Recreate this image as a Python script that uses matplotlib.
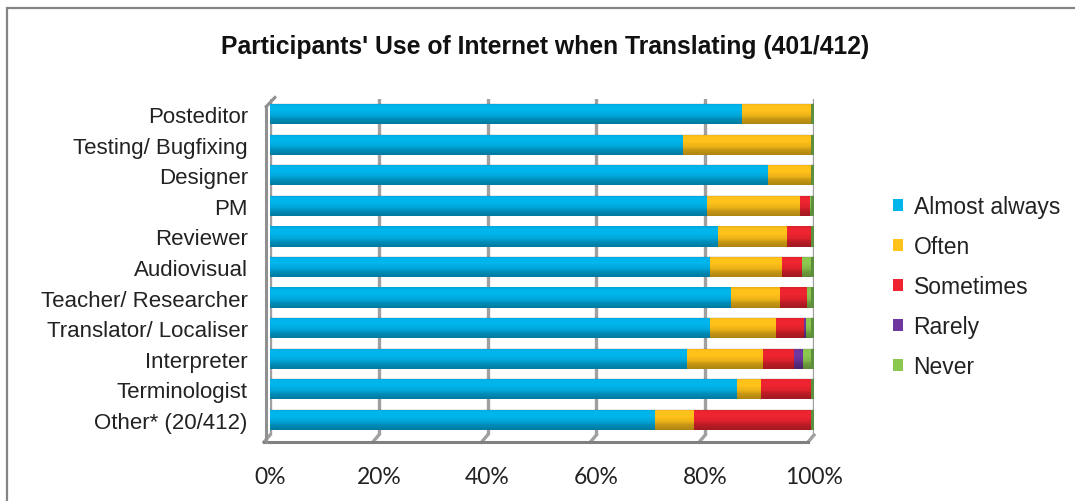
"""Stacked horizontal bar chart: how often participants use the internet while translating, by role."""

import matplotlib.pyplot as plt
from matplotlib.patches import Rectangle
import numpy as np

roles = ["Posteditor", "Testing/ Bugfixing", "Designer", "PM", "Reviewer", "Audiovisual",
         "Teacher/ Researcher", "Translator/ Localiser", "Interpreter", "Terminologist",
         "Other* (20/412)"]

# shares in percent, one list per answer
almost_always = [86.7, 75.9, 91.6, 80.3, 82.4, 80.9, 84.7, 80.9, 76.6, 85.9, 70.8]
often = [12.7, 23.5, 7.8, 17.2, 12.6, 13.2, 9.1, 12.1, 14.0, 4.4, 7.2]
sometimes = [0.0, 0.0, 0.0, 1.8, 4.4, 3.7, 4.9, 5.1, 5.8, 9.2, 21.5]
rarely = [0.0, 0.0, 0.0, 0.0, 0.0, 0.0, 0.0, 0.5, 1.5, 0.0, 0.0]
never = [0.6, 0.6, 0.6, 0.7, 0.6, 2.2, 1.3, 1.4, 2.1, 0.5, 0.5]

answers = ["Almost always", "Often", "Sometimes", "Rarely", "Never"]
series = [almost_always, often, sometimes, rarely, never]
colors = ["#00B4EC", "#FFC21A", "#EE2430", "#6E37A0", "#8CC84F"]

tick_vals = [0, 20, 40, 60, 80, 100]
tick_labels = ["0%", "20%", "40%", "60%", "80%", "100%"]

W, H = 1075, 502
fig = plt.figure(figsize=(W / 100, H / 100), dpi=100)
ax = fig.add_axes([270 / W, 1 - 436 / H, 544 / W, 336 / H])

y = np.arange(len(roles))
bar_h = 0.66
left = np.zeros(len(roles))
containers = []
for vals, col, name in zip(series, colors, answers):
    vals = np.array(vals)
    c = ax.barh(y, vals, left=left, height=bar_h, color=col, edgecolor="none",
                label=name, zorder=3)
    containers.append(c)
    left += vals

# cylinder-like shading over each bar: lighter band on top, darker underside
shade = np.linspace(0, 1, 64)
alpha = np.interp(shade, [0, 0.12, 0.35, 0.6, 0.75, 1.0], [0.10, 0.0, 0.0, 0.08, 0.22, 0.32])
rgba = np.zeros((64, 1, 4))
rgba[:, 0, 3] = alpha
for yi, tot in zip(y, left):
    ax.imshow(rgba, extent=(0, tot, yi + bar_h / 2, yi - bar_h / 2), aspect="auto",
              interpolation="bilinear", zorder=4)
    # end cap of the bar
    ax.add_patch(Rectangle((tot - 0.5, yi - bar_h / 2), 0.7, bar_h, facecolor="#5E8F3E",
                           edgecolor="none", zorder=5))

# grid walls
grid_col = "#A0A0A0"
for xv in tick_vals:
    ax.plot([xv, xv], [-0.52, len(roles) - 0.5], color=grid_col, lw=2.4, zorder=1,
            solid_capstyle="butt")
    ax.plot([xv, xv - 1.1], [len(roles) - 0.5, len(roles) - 0.27], color=grid_col, lw=2.4,
            zorder=1, clip_on=False)
# floor front edge and left wall
ax.plot([-1.1, 98.9], [len(roles) - 0.27] * 2, color="#808080", lw=2.2, clip_on=False, zorder=2)
ax.plot([-0.7, -0.7], [-0.25, len(roles) - 0.27], color="#909090", lw=2.2, clip_on=False, zorder=2)
ax.plot([-0.7, 0.9], [-0.25, -0.55], color="#909090", lw=2.2, clip_on=False, zorder=2)

ax.set_xlim(0, 100)
ax.set_ylim(len(roles) - 0.5, -0.5)
ax.set_xticks(tick_vals)
ax.set_xticklabels(tick_labels, fontsize=16.5, family="Lato", color="#222222")
ax.set_yticks(y)
ax.set_yticklabels(roles, fontsize=16, family="Liberation Sans", color="#222222")
ax.tick_params(axis="x", length=0, pad=22)
ax.tick_params(axis="y", length=0, pad=16)
for s in ax.spines.values():
    s.set_visible(False)
ax.set_facecolor("none")

fig.text(545 / W, 1 - 47 / H, "Participants' Use of Internet when Translating (401/412)",
         ha="center", va="center", fontsize=17.8, fontweight="bold",
         family="Liberation Sans", color="#111111")

leg = fig.legend(handles=containers, labels=answers, loc="upper left",
                 bbox_to_anchor=(884 / W, 1 - 187 / H), frameon=False,
                 prop={"family": "Liberation Sans", "size": 16.5},
                 handlelength=0.45, handleheight=0.45, handletextpad=0.44,
                 labelspacing=0.74, borderaxespad=0)
for t in leg.get_texts():
    t.set_color("#222222")

# outer chart frame
fig.patches.append(Rectangle((7 / W, -0.1), 1.2, 1.1 - 9 / H, transform=fig.transFigure,
                             fill=False, edgecolor="#858585", lw=1.6))

fig.savefig("out.png", dpi=100)
